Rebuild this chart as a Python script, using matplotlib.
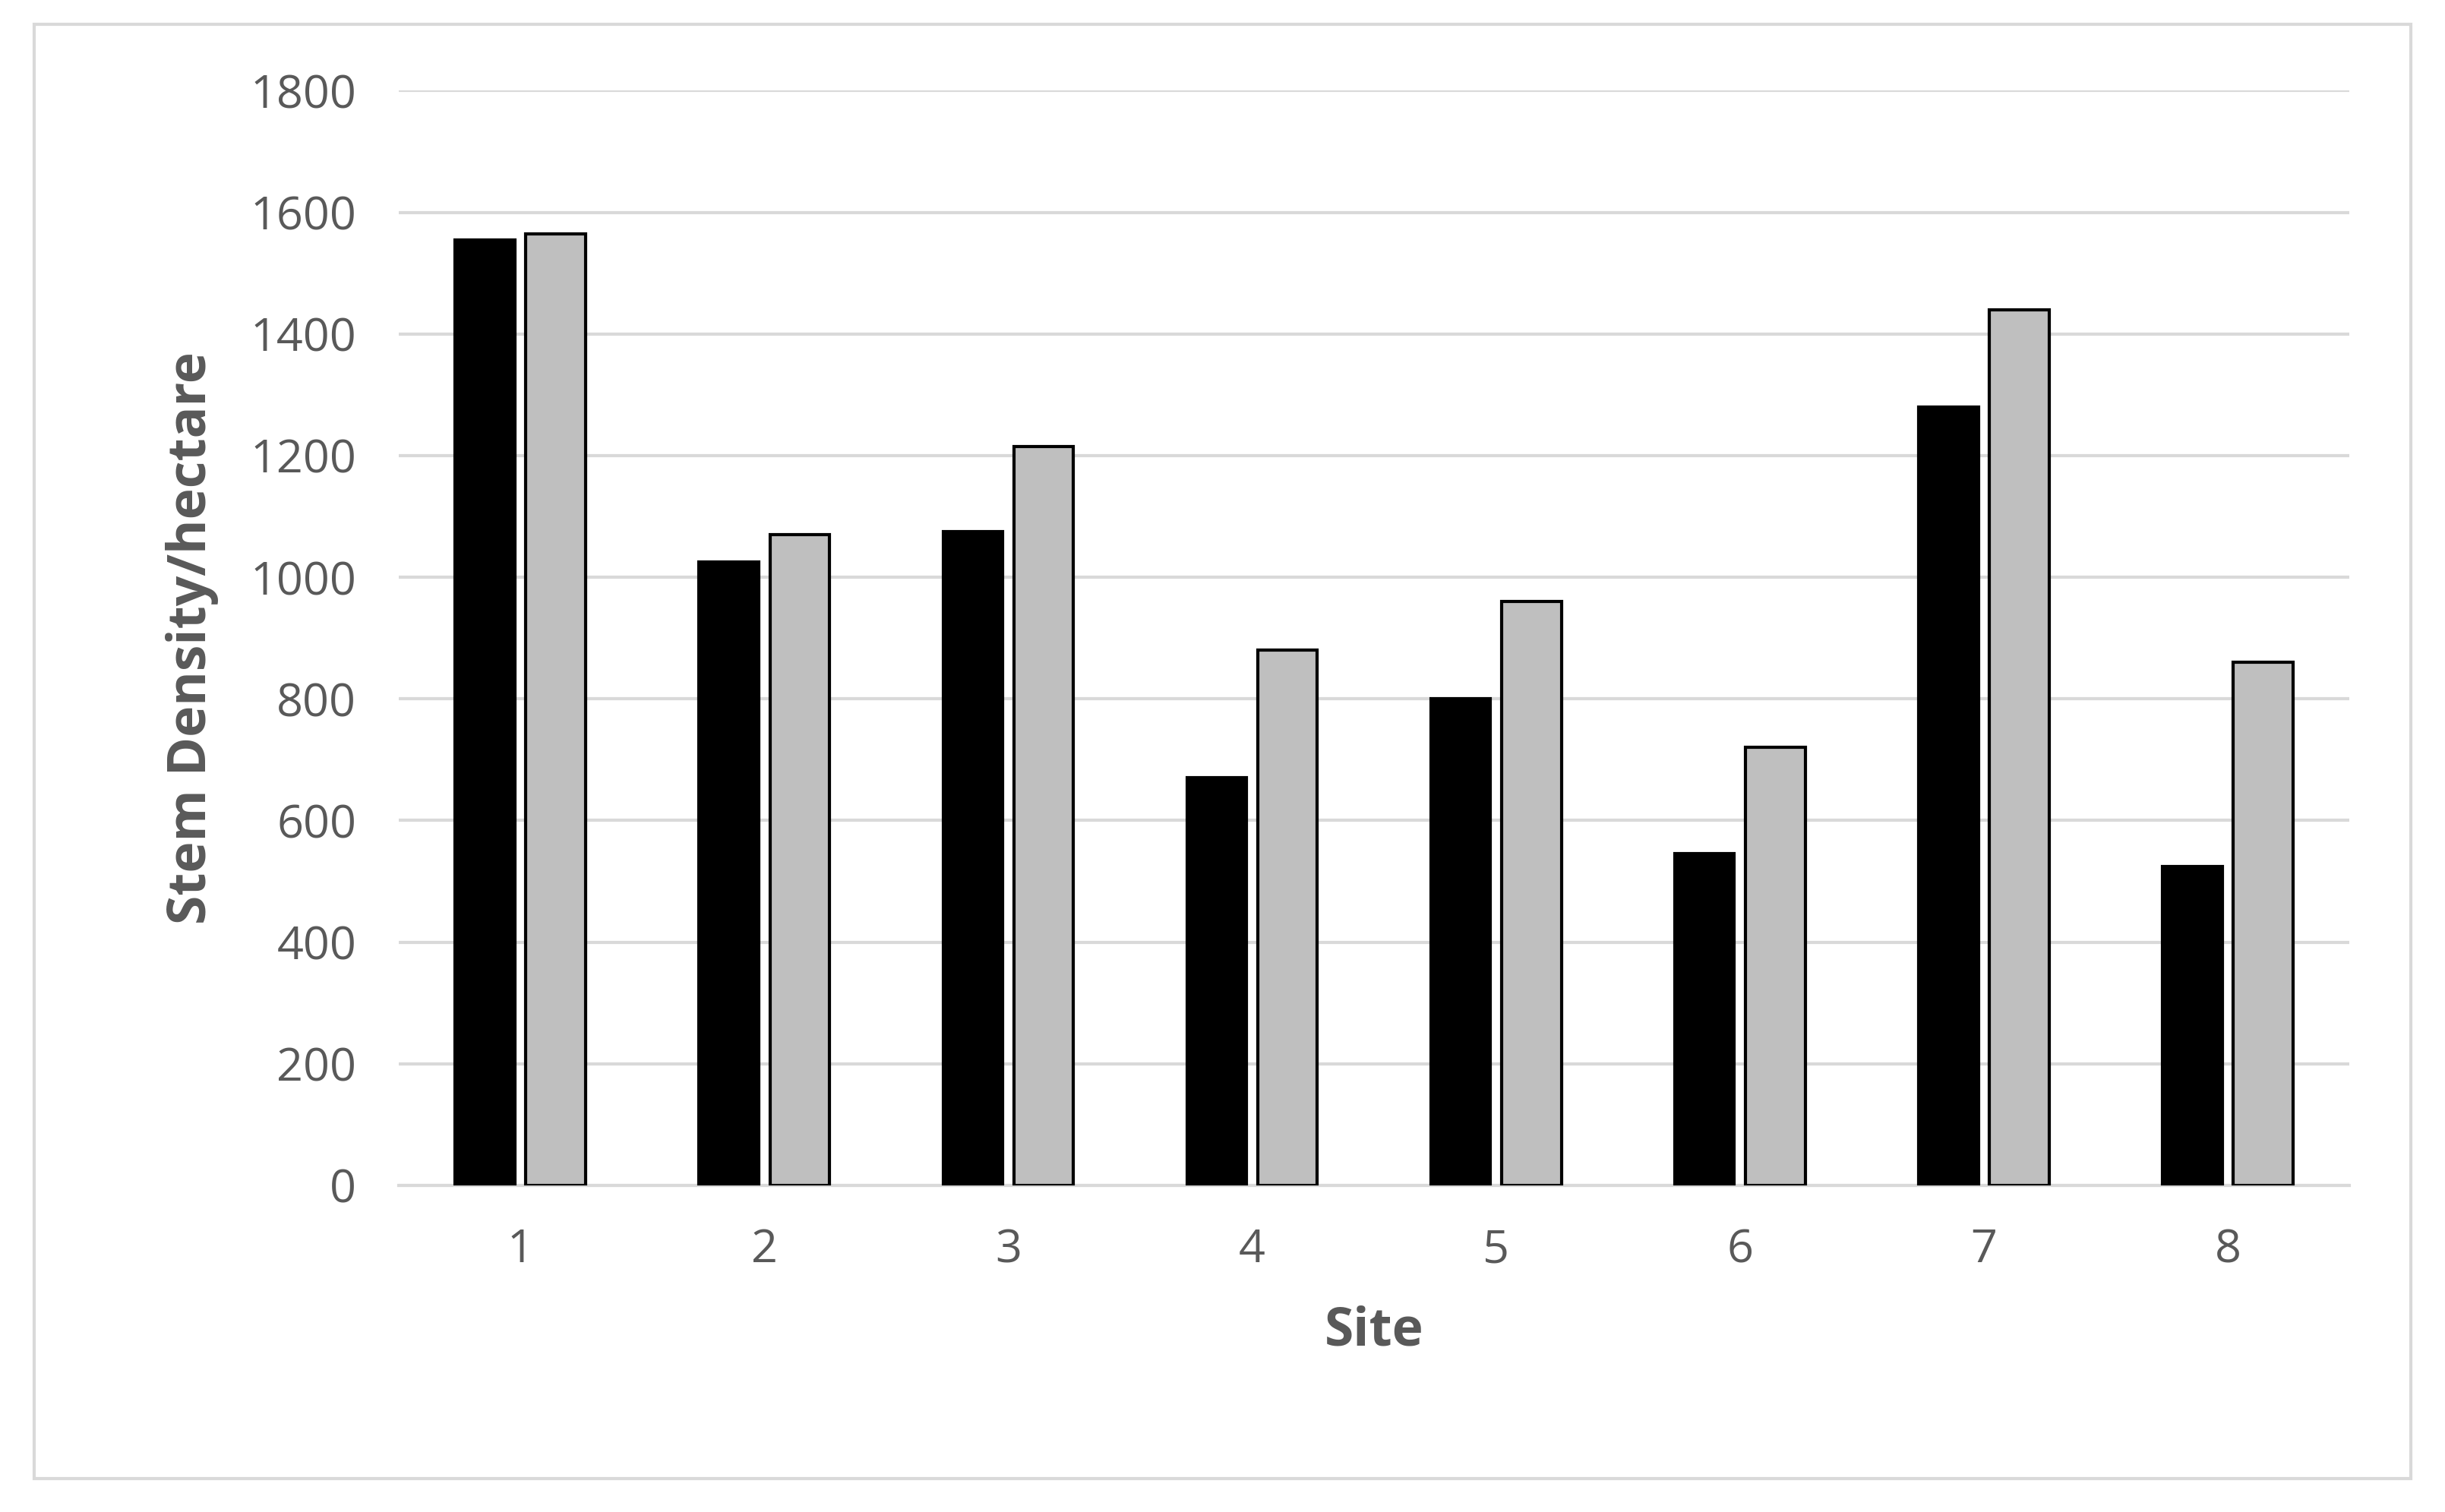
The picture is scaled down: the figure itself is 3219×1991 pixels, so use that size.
import numpy as np
import matplotlib.pyplot as plt
from matplotlib.patches import Rectangle

sites = ["1", "2", "3", "4", "5", "6", "7", "8"]
series_a = [1555, 1025, 1075, 670, 800, 545, 1280, 525]
series_b = [1565, 1070, 1215, 880, 960, 720, 1440, 860]

plt.rcParams['font.family'] = ['Open Sans', 'DejaVu Sans']
txt = "#595959"

fig = plt.figure(figsize=(32.19, 19.91), dpi=100)
ax = fig.add_axes([0.163, 0.216, 0.798, 0.724])
fig.patches.append(Rectangle((0.014, 0.022), 0.972, 0.962, transform=fig.transFigure,
                             fill=False, edgecolor="#d9d9d9", linewidth=3))

x = np.arange(len(sites))
w = 0.245
ax.bar(x - 0.145, series_a, w, color="black", edgecolor="black", linewidth=3, zorder=3)
ax.bar(x + 0.145, series_b, w, color="#bfbfbf", edgecolor="black", linewidth=3, zorder=3)

ax.set_ylim(0, 1800)
ax.set_xlim(-0.5, 7.5)
ax.set_yticks(range(0, 1801, 200))
ax.set_xticks(x, sites)
ax.grid(axis="y", color="#d9d9d9", linewidth=3, zorder=0)
for s in ["top", "right", "left"]:
    ax.spines[s].set_visible(False)
ax.spines["bottom"].set_color("#d9d9d9")
ax.spines["bottom"].set_linewidth(3)
ax.tick_params(length=0, labelsize=44, labelcolor=txt, pad=40)
ax.set_xlabel("Site", fontsize=50, fontweight="bold", color=txt, labelpad=30)
ax.set_ylabel("Stem Density/hectare", fontsize=50, fontweight="bold", color=txt, labelpad=30)

fig.savefig("out.png")
